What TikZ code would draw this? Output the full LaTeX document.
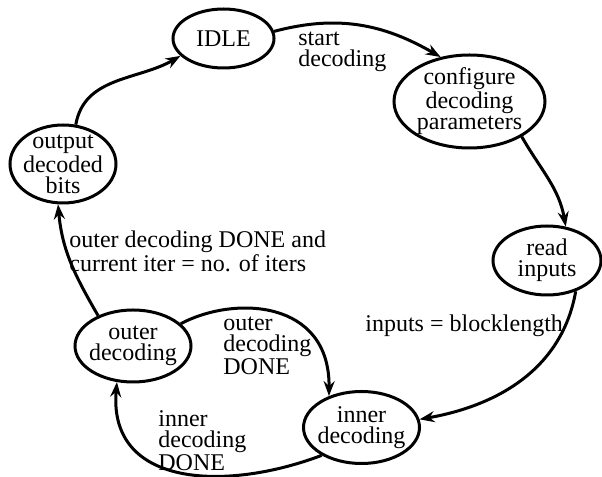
\documentclass[tikz,border=0pt]{standalone}
\usepackage{fontspec}
\setmainfont{Liberation Serif}
\usetikzlibrary{arrows.meta,shapes.geometric}
\tikzset{
  stnode/.style={draw, ellipse, line width=1.5pt, inner sep=-10pt, align=center,
                 font=\fontsize{12}{10.5}\selectfont},
  trans/.style={-{Stealth[length=7.5pt, width=5.5pt, inset=2.5pt]}, line width=1.5pt},
  lbl/.style={align=left, anchor=west, inner sep=0pt, font=\fontsize{12}{10.5}\selectfont},
}
\begin{document}
\begin{tikzpicture}[x=0.5pt, y=0.5pt]
  \useasboundingbox (0,0) rectangle (602,477);
  % states
  \node[stnode, minimum width=50.5pt, minimum height=29.5pt] (idle) at (223.5,438.5) {IDLE};
  \node[stnode, minimum width=75.5pt, minimum height=46.5pt] (cfg) at (469.5,375.5) {configure\\decoding\\parameters};
  \node[stnode, minimum width=54pt, minimum height=34.5pt] (read) at (547,216.5) {read\\inputs};
  \node[stnode, minimum width=58pt, minimum height=36pt] (inner) at (361.5,49.5) {inner\\decoding};
  \node[stnode, minimum width=58pt, minimum height=36pt] (outer) at (133,131) {outer\\decoding};
  \node[stnode, minimum width=53pt, minimum height=39pt] (output) at (63,313) {output\\decoded\\bits};
  % transitions
  \draw[trans] (idle.8) to[out=15, in=150] (cfg.123);
  \draw[trans] (cfg.-34) to[out=-60, in=100] (read.61);
  \draw[trans] (read.-47) to[out=-100, in=10] (inner.8);
  \draw[trans] (inner.-145) .. controls (225,-15) and (108,-10) .. (outer.-114);
  \draw[trans] (outer.25) .. controls (235,182) and (330,177) .. (inner.136);
  \draw[trans] (outer.139) to[out=120, in=-85] (output.-97);
  \draw[trans] (output.72) to[out=80, in=-150] (idle.-158);
  % labels
  \node[lbl] (lstart) at (298,425) {start\\decoding};
  \node[lbl] (lblock) at (365,151) {inputs = blocklength};
  \node[lbl] (lodone) at (223,131) {outer\\decoding\\DONE};
  \node[lbl] (lidone) at (158,36) {inner\\decoding\\DONE};
  \node[lbl] (liters) at (69,226) {outer decoding DONE and\\current iter = no. of iters};
\end{tikzpicture}
\end{document}
